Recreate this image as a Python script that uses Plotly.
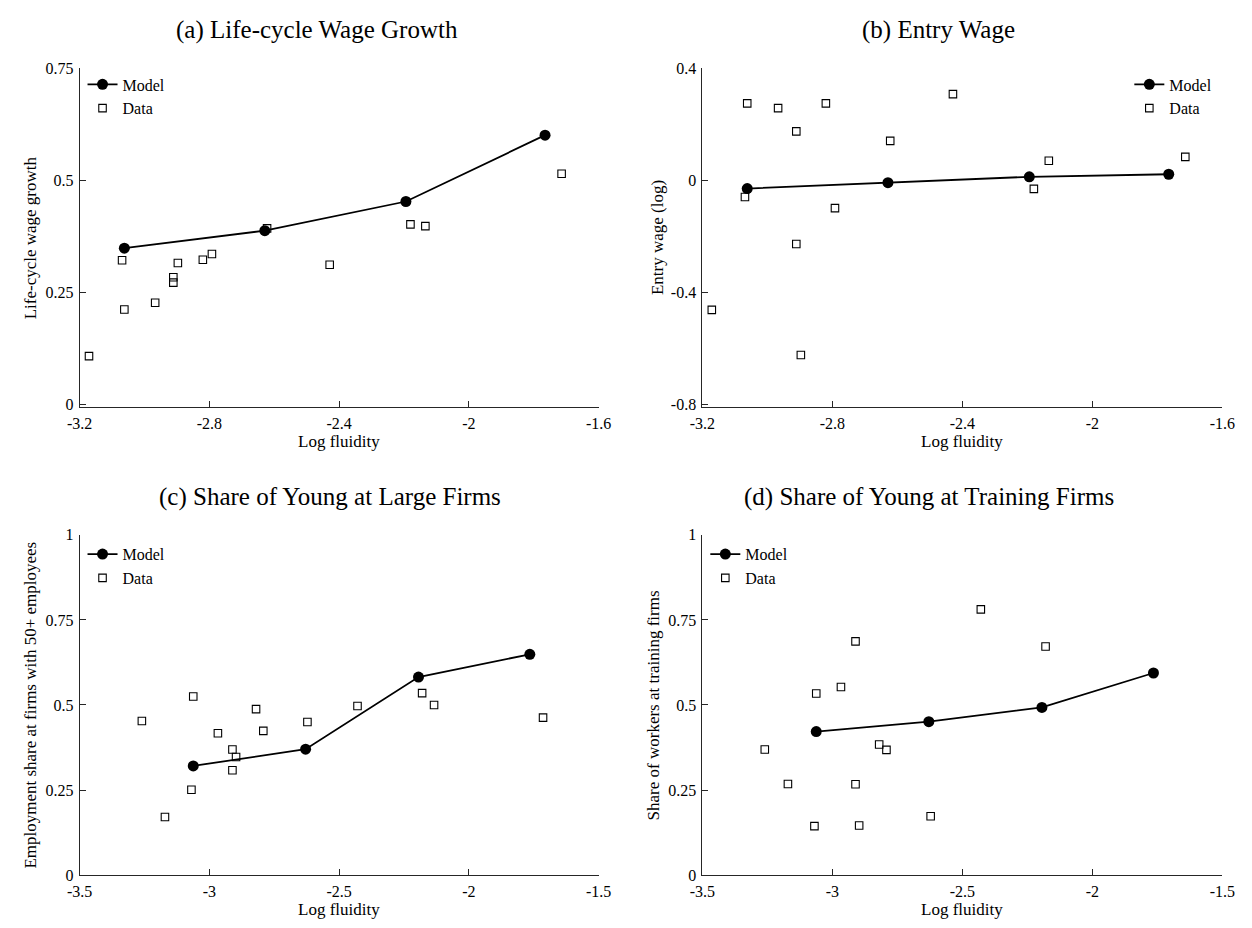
import plotly.graph_objects as go

# Log fluidity of each country (shared by all four panels)
fluidity = [-3.260, -3.171, -3.069, -3.062, -2.967, -2.911, -2.911, -2.897,
            -2.820, -2.792, -2.622, -2.429, -2.180, -2.134, -1.714]

# Observed values per panel (None = not available / outside the axis)
data_wage_growth = [None, 0.108, 0.322, 0.212, 0.227, 0.284, 0.272, 0.316,
                    0.323, 0.336, 0.393, 0.312, 0.402, 0.398, 0.515]
data_entry_wage = [None, -0.462, -0.059, 0.275, 0.258, 0.175, -0.227, -0.623,
                   0.275, -0.099, 0.141, 0.308, -0.030, 0.070, 0.084]
data_large_share = [0.453, 0.171, 0.251, 0.525, 0.417, 0.369, 0.308, 0.347,
                    0.488, 0.424, 0.450, 0.497, 0.535, 0.500, 0.463]
data_training_share = [0.369, 0.268, 0.144, 0.534, 0.553, 0.687, 0.267, 0.146,
                       0.384, 0.368, 0.173, 0.781, 0.672, None, None]

# Model predictions
model_fluidity = [-3.062, -2.629, -2.194, -1.765]
model_wage_growth = [0.349, 0.388, 0.453, 0.601]
model_entry_wage = [-0.029, -0.008, 0.013, 0.022]
model_large_share = [0.321, 0.370, 0.582, 0.649]
model_training_share = [0.422, 0.451, 0.493, 0.594]

titles = ["(a) Life-cycle Wage Growth", "(b) Entry Wage",
          "(c) Share of Young at Large Firms", "(d) Share of Young at Training Firms"]
ytitles = ["Life-cycle wage growth", "Entry wage (log)",
           "Employment share at firms with 50+ employees",
           "Share of workers at training firms"]
xtitle = "Log fluidity"

x_ticks_top = [-3.2, -2.8, -2.4, -2.0, -1.6]
x_ticks_bottom = [-3.5, -3.0, -2.5, -2.0, -1.5]
y_ticks = [[0, 0.25, 0.5, 0.75], [-0.8, -0.4, 0, 0.4],
           [0, 0.25, 0.5, 0.75, 1], [0, 0.25, 0.5, 0.75, 1]]

W, H = 1252, 928
FONT = "Liberation Serif"
INK = "#262626"


def px_x(p):
    return p / W


def px_y(p):
    return 1 - p / H


def fmt(v):
    # plain hyphen for negative numbers
    return "%g" % v


# panel geometry in pixels: (left, right, top, bottom)
boxes = [(68, 598, 61.5, 406.5), (704, 1235, 61.5, 406.5),
         (68, 598, 536.7, 883.3), (704, 1235, 536.7, 883.3)]
x_ranges = [[-3.2, -1.6], [-3.2, -1.6], [-3.5, -1.5], [-3.5, -1.5]]
y_ranges = [[-0.0055, 0.75], [-0.809, 0.4], [0, 1], [0, 1]]
x_tick_sets = [x_ticks_top, x_ticks_top, x_ticks_bottom, x_ticks_bottom]

data_sets = [data_wage_growth, data_entry_wage, data_large_share, data_training_share]
model_sets = [model_wage_growth, model_entry_wage, model_large_share, model_training_share]

fig = go.Figure()
layout = dict(width=W, height=H, margin=dict(l=0, r=0, t=0, b=0),
              paper_bgcolor="white", plot_bgcolor="white",
              font=dict(family=FONT, size=16, color="black"),
              annotations=[])

# legend box corners (left, top) in pixels
legend_pos = [(71, 60.5), (1140, 60.5), (71, 539), (707, 539)]

for i in range(4):
    n = "" if i == 0 else str(i + 1)
    xa, ya = "x" + n, "y" + n
    lg = "legend" + n
    fig.add_trace(go.Scatter(
        x=model_fluidity, y=model_sets[i], mode="lines+markers", name="Model",
        line=dict(color="black", width=1.8),
        marker=dict(symbol="circle", size=11, color="black"),
        xaxis=xa, yaxis=ya, legend=lg, cliponaxis=True))
    fig.add_trace(go.Scatter(
        x=fluidity, y=data_sets[i], mode="markers", name="Data",
        marker=dict(symbol="square-open", size=7.5, color="black",
                    line=dict(width=1.1)),
        xaxis=xa, yaxis=ya, legend=lg, cliponaxis=True))

    l, r, t, b = boxes[i]
    layout["xaxis" + n] = dict(
        domain=[px_x(l), px_x(r)], range=x_ranges[i], anchor=ya,
        showline=True, linecolor=INK, linewidth=1, showgrid=False, zeroline=False,
        ticks="inside", ticklen=6, tickwidth=1, tickcolor=INK,
        tickvals=x_tick_sets[i], ticktext=[fmt(v) for v in x_tick_sets[i]],
        ticklabelstandoff=2,
        tickfont=dict(family=FONT, size=16, color="black"))
    layout["yaxis" + n] = dict(
        domain=[px_y(b), px_y(t)], range=y_ranges[i], anchor=xa,
        showline=True, linecolor=INK, linewidth=1, showgrid=False, zeroline=False,
        ticks="inside", ticklen=6, tickwidth=1, tickcolor=INK,
        tickvals=y_ticks[i], ticktext=[fmt(v) for v in y_ticks[i]],
        ticklabelstandoff=2,
        tickfont=dict(family=FONT, size=16, color="black"))

    lx, ly = legend_pos[i]
    layout[lg] = dict(x=px_x(lx), y=px_y(ly), xanchor="left", yanchor="top",
                      bgcolor="rgba(0,0,0,0)", borderwidth=0,
                      font=dict(family=FONT, size=16, color="black"),
                      itemwidth=30)

# panel titles
title_pos = [(310, 22), (945, 22), (324, 498), (935, 498)]
for (cx, cy), txt in zip(title_pos, titles):
    layout["annotations"].append(dict(
        text=txt, x=px_x(cx), y=px_y(cy), xref="paper", yref="paper",
        xanchor="center", yanchor="middle", showarrow=False,
        font=dict(family=FONT, size=25, color="black")))

# axis titles
for i in range(4):
    l, r, t, b = boxes[i]
    xy = 442 if i < 2 else 918
    layout["annotations"].append(dict(
        text=xtitle, x=px_x((l + r) / 2), y=px_y(xy), xref="paper", yref="paper",
        xanchor="center", yanchor="middle", showarrow=False,
        font=dict(family=FONT, size=17, color="black")))
ytitle_x = [18, 658, 18, 655]
for i in range(4):
    l, r, t, b = boxes[i]
    layout["annotations"].append(dict(
        text=ytitles[i], x=px_x(ytitle_x[i]), y=px_y((t + b) / 2),
        xref="paper", yref="paper", xanchor="center", yanchor="middle",
        textangle=-90, showarrow=False,
        font=dict(family=FONT, size=17, color="black")))

fig.update_layout(**layout)
fig.write_html("out.html")
